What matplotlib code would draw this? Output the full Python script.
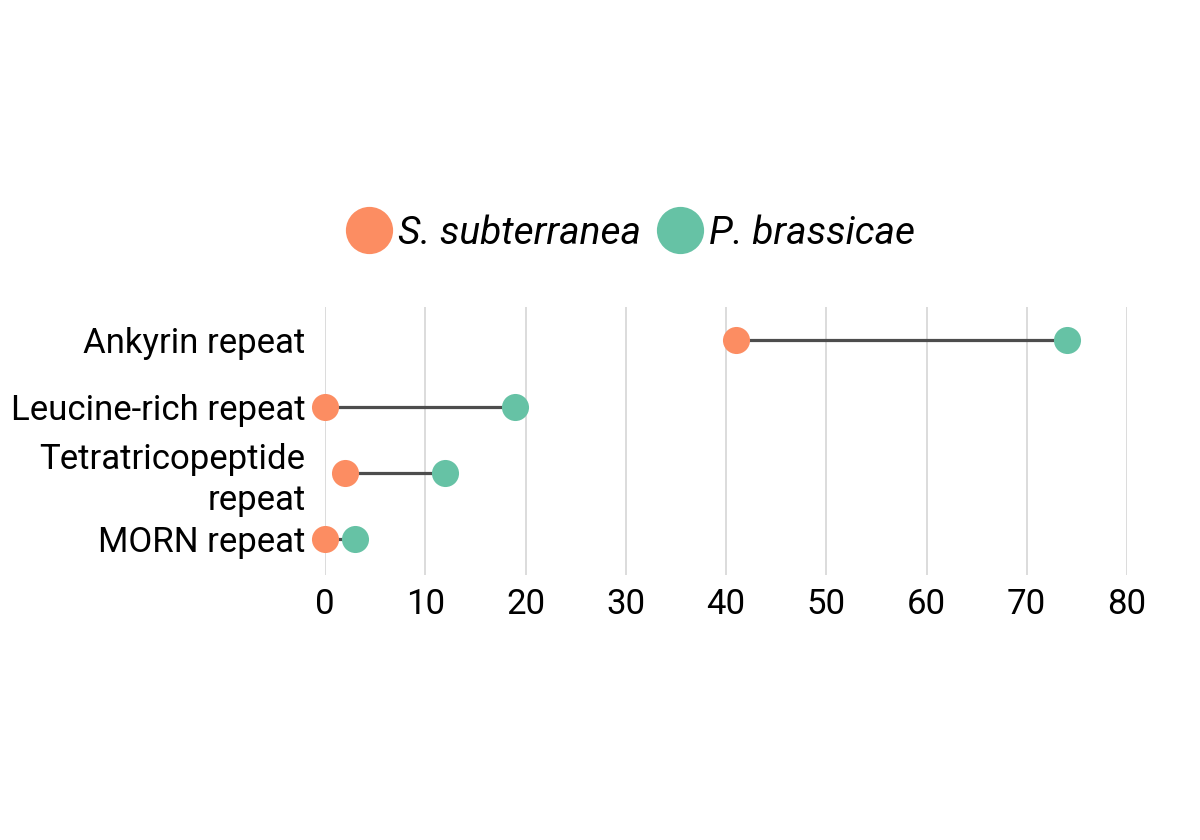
import matplotlib.pyplot as plt
from matplotlib.lines import Line2D

# Data
domains = ['Ankyrin repeat', 'Leucine-rich repeat', 'Tetratricopeptide\nrepeat', 'MORN repeat']
s_subterranea = [41, 0, 2, 0]
p_brassicae = [74, 19, 12, 3]
ticks = [0, 10, 20, 30, 40, 50, 60, 70, 80]

orange = '#fc8d62'
green = '#66c2a5'

plt.rcParams['font.family'] = ['Roboto', 'DejaVu Sans']

fig = plt.figure(figsize=(12, 8.4), dpi=100)
ax = fig.add_axes([325 / 1200, 1 - 575 / 840, (1127 - 325) / 1200, (575 - 307) / 840])

y = list(range(len(domains)))

# connecting segments
for yi, a, b in zip(y, s_subterranea, p_brassicae):
    ax.plot([a, b], [yi, yi], color='#4d4d4d', lw=2.3, zorder=2, solid_capstyle='butt')

ax.scatter(s_subterranea, y, s=380, color=orange, zorder=3, clip_on=False, linewidths=0)
ax.scatter(p_brassicae, y, s=380, color=green, zorder=3, clip_on=False, linewidths=0)

ax.set_xlim(0, 80)
ax.set_ylim(3.54, -0.5)
ax.set_xticks(ticks)
ax.set_yticks(y)
ax.set_yticklabels(domains, fontsize=25, ha='right', multialignment='right', linespacing=1.3)
ax.tick_params(axis='x', labelsize=25, length=0, pad=9)
ax.tick_params(axis='y', length=0, pad=14)
ax.grid(axis='x', color='#d9d9d9', lw=1.3, zorder=0)
ax.set_axisbelow(True)
for sp in ax.spines.values():
    sp.set_visible(False)

legend_elements = [
    Line2D([0], [0], marker='o', color='none', markerfacecolor=orange, markeredgewidth=0,
           markersize=34, label='S. subterranea'),
    Line2D([0], [0], marker='o', color='none', markerfacecolor=green, markeredgewidth=0,
           markersize=34, label='P. brassicae'),
]
leg = fig.legend(handles=legend_elements, loc='center', bbox_to_anchor=(630 / 1200, 1 - 233 / 840),
                 ncol=2, frameon=False, handlelength=1.2, handletextpad=0.15, columnspacing=0.4,
                 prop={'size': 28, 'style': 'italic'})

plt.savefig('out.png', dpi=100)
